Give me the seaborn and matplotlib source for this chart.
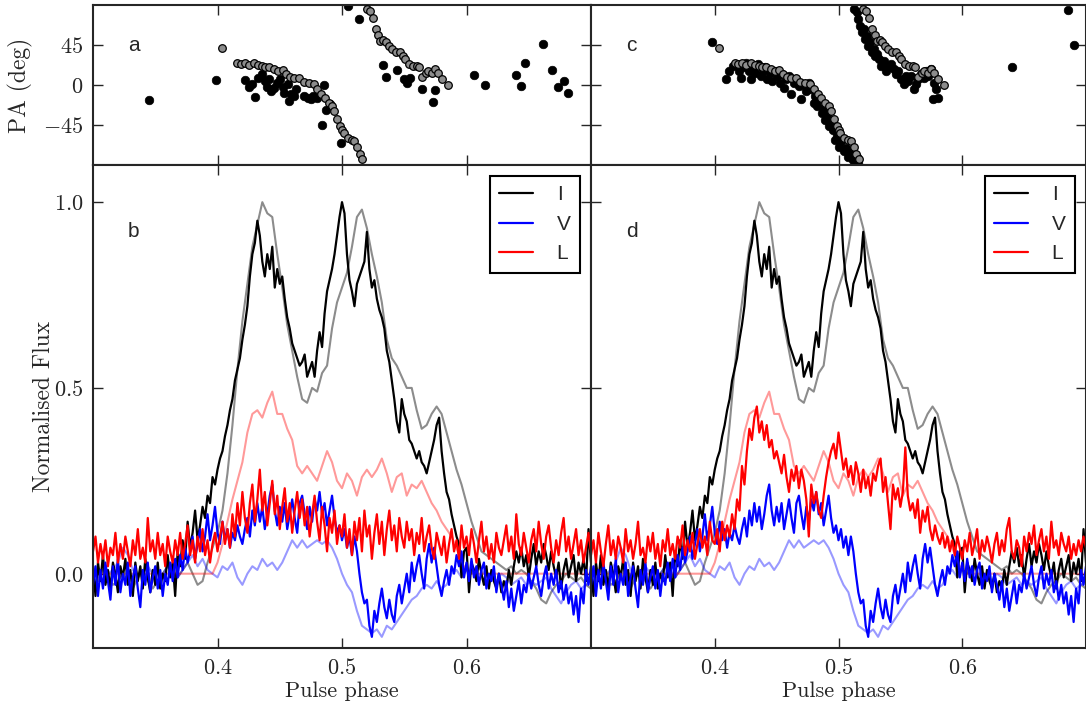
import numpy as np
import matplotlib
matplotlib.use("Agg")
import matplotlib.pyplot as plt
import seaborn as sns

# pulse phase bins (fine profile and reference profile)
phase_fine = np.linspace(0.3, 0.7, 201)
phase_ref = np.linspace(0.3, 0.7, 101)

stokes_i = [
    0.02, -0.06, 0.03, -0.02, 0.05, -0.03, 0.01, -0.04, 0.03, 0.00,
    -0.05, 0.02, -0.01, 0.04, -0.03, 0.01, -0.06, 0.03, -0.02, 0.02,
    -0.04, 0.04, -0.01, -0.05, 0.01, -0.03, 0.03, -0.04, 0.00, -0.02,
    0.05, -0.01, 0.03, -0.06, 0.06, 0.02, 0.09, 0.04, 0.14, 0.07,
    0.11, 0.17, 0.09, 0.13, 0.18, 0.15, 0.21, 0.19, 0.26, 0.24,
    0.28, 0.31, 0.33, 0.37, 0.40, 0.44, 0.47, 0.52, 0.55, 0.58,
    0.63, 0.67, 0.72, 0.80, 0.86, 0.89, 0.95, 0.91, 0.84, 0.80,
    0.86, 0.82, 0.88, 0.77, 0.82, 0.78, 0.80, 0.74, 0.69, 0.66,
    0.62, 0.60, 0.58, 0.56, 0.57, 0.59, 0.53, 0.55, 0.57, 0.53,
    0.60, 0.65, 0.61, 0.70, 0.76, 0.79, 0.82, 0.86, 0.91, 0.96,
    1.00, 0.97, 0.86, 0.79, 0.76, 0.72, 0.78, 0.80, 0.82, 0.84,
    0.92, 0.82, 0.77, 0.79, 0.74, 0.71, 0.69, 0.66, 0.60, 0.57,
    0.52, 0.47, 0.41, 0.38, 0.47, 0.43, 0.41, 0.36, 0.35, 0.33,
    0.31, 0.33, 0.30, 0.29, 0.27, 0.30, 0.33, 0.36, 0.40, 0.42,
    0.33, 0.27, 0.22, 0.20, 0.16, 0.13, 0.10, 0.08, -0.01, 0.06,
    0.07, -0.05, 0.03, 0.01, -0.02, 0.04, 0.00, -0.03, 0.02, -0.04,
    0.01, -0.02, -0.04, 0.00, -0.05, -0.02, -0.04, 0.01, -0.03, 0.02,
    0.06, 0.03, 0.07, 0.02, 0.05, -0.01, 0.04, 0.08, 0.02, 0.06,
    0.03, 0.08, 0.05, 0.01, 0.06, 0.02, -0.01, 0.03, -0.04, 0.01,
    0.04, -0.01, 0.02, 0.05, -0.02, 0.03, 0.00, 0.04, -0.02, 0.12,
    0.03,
]

stokes_v = [
    -0.03, 0.02, -0.06, 0.01, -0.04, 0.03, -0.02, -0.07, 0.02, -0.03,
    0.04, -0.05, 0.00, -0.03, 0.03, -0.06, -0.01, 0.02, -0.04, -0.09,
    0.01, -0.03, 0.03, -0.05, -0.01, 0.02, -0.04, 0.01, -0.06, 0.00,
    -0.03, 0.03, -0.02, 0.04, -0.01, 0.05, 0.01, 0.07, 0.03, 0.06,
    0.10, 0.04, 0.08, 0.12, 0.06, 0.10, 0.16, 0.09, 0.13, 0.18,
    0.11, 0.08, 0.14, 0.09, 0.12, 0.07, 0.11, 0.09, 0.13, 0.10,
    0.08, 0.12, 0.15, 0.10, 0.17, 0.13, 0.19, 0.14, 0.18, 0.12,
    0.16, 0.21, 0.24, 0.17, 0.13, 0.18, 0.14, 0.19, 0.12, 0.16,
    0.20, 0.15, 0.11, 0.19, 0.21, 0.16, 0.12, 0.18, 0.14, 0.20,
    0.17, 0.22, 0.16, 0.19, 0.13, 0.17, 0.21, 0.15, 0.11, 0.13,
    0.09, 0.12, 0.07, 0.10, 0.05, 0.10, 0.06, 0.00, -0.05, -0.08,
    -0.07, -0.14, -0.17, -0.10, -0.13, -0.08, -0.04, -0.09, -0.12, -0.07,
    -0.11, -0.13, -0.06, -0.03, -0.08, -0.04, 0.00, -0.05, 0.03, -0.02,
    0.02, 0.05, 0.00, -0.04, 0.04, 0.08, 0.03, 0.07, 0.02, -0.03,
    -0.06, -0.02, 0.01, -0.03, 0.02, 0.00, 0.05, 0.02, 0.06, -0.01,
    0.03, -0.02, 0.04, -0.01, 0.02, -0.03, 0.01, 0.03, -0.04, 0.00,
    -0.02, 0.02, -0.05, 0.00, -0.03, -0.07, -0.02, -0.09, -0.04, -0.10,
    -0.06, -0.02, -0.08, -0.03, -0.05, 0.00, -0.04, -0.01, 0.02, -0.03,
    -0.06, -0.01, 0.02, -0.04, 0.00, -0.03, 0.01, -0.05, -0.02, -0.07,
    -0.03, -0.08, -0.05, -0.11, -0.06, -0.13, -0.04, -0.08, 0.01, -0.03,
    0.02,
]

# linear polarisation, panel b
lin_b = [
    0.06, 0.10, 0.03, 0.08, 0.04, 0.09, 0.02, 0.07, 0.05, 0.11,
    0.03, 0.08, 0.04, 0.10, 0.06, 0.02, 0.09, 0.05, 0.12, 0.04,
    0.07, 0.03, 0.15, 0.06, 0.09, 0.04, 0.11, 0.05, 0.08, 0.02,
    0.10, 0.06, 0.03, 0.09, 0.05, 0.11, 0.04, 0.08, 0.13, 0.05,
    0.09, 0.03, 0.10, 0.06, 0.12, 0.05, 0.09, 0.03, 0.08, 0.11,
    0.06, 0.10, 0.14, 0.08, 0.12, 0.07, 0.16, 0.10, 0.19, 0.13,
    0.22, 0.15, 0.11, 0.19, 0.24, 0.14, 0.20, 0.28, 0.17, 0.22,
    0.13, 0.19, 0.25, 0.16, 0.21, 0.12, 0.18, 0.23, 0.14, 0.19,
    0.11, 0.17, 0.22, 0.15, 0.20, 0.13, 0.18, 0.10, 0.16, 0.21,
    0.14, 0.09, 0.18, 0.13, 0.06, 0.15, 0.11, 0.17, 0.08, 0.13,
    0.10, 0.16, 0.07, 0.12, 0.05, 0.14, 0.09, 0.15, 0.06, 0.17,
    0.10, 0.13, 0.04, 0.11, 0.16, 0.08, 0.14, 0.05, 0.12, 0.17,
    0.09, 0.13, 0.06, 0.15, 0.10, 0.07, 0.14, 0.09, 0.12, 0.05,
    0.11, 0.08, 0.15, 0.06, 0.10, 0.13, 0.07, 0.04, 0.11, 0.08,
    0.05, 0.10, 0.03, 0.08, 0.12, 0.06, 0.09, 0.04, 0.13, 0.07,
    0.10, 0.05, 0.12, 0.08, 0.03, 0.09, 0.14, 0.06, 0.10, 0.04,
    0.08, 0.03, 0.11, 0.07, 0.05, 0.09, 0.13, 0.06, 0.10, 0.04,
    0.16, 0.08, 0.05, 0.11, 0.07, 0.03, 0.09, 0.12, 0.06, 0.14,
    0.08, 0.04, 0.10, 0.13, 0.07, 0.03, 0.09, 0.05, 0.11, 0.15,
    0.06, 0.10, 0.04, 0.08, 0.12, 0.05, 0.09, 0.03, 0.07, 0.11,
    0.06,
]

# linear polarisation, panel d
lin_d = [
    0.05, 0.09, 0.03, 0.11, 0.06, 0.02, 0.08, 0.13, 0.05, 0.09,
    0.04, 0.10, 0.07, 0.03, 0.12, 0.06, 0.09, 0.04, 0.08, 0.14,
    0.05, 0.07, 0.03, 0.10, 0.06, 0.11, 0.04, 0.08, 0.02, 0.09,
    0.06, 0.12, 0.05, 0.08, 0.04, 0.10, 0.07, 0.13, 0.05, 0.09,
    0.06, 0.11, 0.04, 0.08, 0.12, 0.07, 0.10, 0.05, 0.14, 0.09,
    0.08, 0.12, 0.06, 0.14, 0.09, 0.13, 0.10, 0.16, 0.12, 0.20,
    0.17, 0.29, 0.24, 0.33, 0.39, 0.36, 0.42, 0.45, 0.38, 0.41,
    0.36, 0.40, 0.34, 0.36, 0.31, 0.33, 0.30, 0.27, 0.32, 0.26,
    0.22, 0.28, 0.25, 0.29, 0.23, 0.28, 0.25, 0.20, 0.10, 0.24,
    0.19, 0.22, 0.17, 0.15, 0.21, 0.26, 0.30, 0.33, 0.35, 0.31,
    0.38, 0.33, 0.28, 0.31, 0.26, 0.29, 0.24, 0.30, 0.27, 0.22,
    0.28, 0.23, 0.26, 0.21, 0.27, 0.25, 0.29, 0.31, 0.22, 0.26,
    0.19, 0.12, 0.24, 0.20, 0.23, 0.18, 0.22, 0.34, 0.21, 0.17,
    0.19, 0.15, 0.20, 0.11, 0.17, 0.14, 0.18, 0.12, 0.09, 0.13,
    0.10, 0.08, 0.11, 0.07, 0.10, 0.06, 0.09, 0.05, 0.10, 0.07,
    0.04, 0.09, 0.06, 0.11, 0.05, 0.08, 0.12, 0.04, 0.09, 0.06,
    0.10, 0.07, 0.03, 0.08, 0.11, 0.05, 0.09, 0.06, 0.12, 0.15,
    0.06, 0.04, 0.09, 0.07, 0.02, 0.10, 0.06, 0.11, 0.08, 0.13,
    0.05, 0.09, 0.12, 0.06, 0.10, 0.04, 0.14, 0.07, 0.09, 0.05,
    0.11, 0.08, 0.06, 0.10, 0.04, 0.08, 0.05, 0.09, 0.06, 0.10,
    0.07,
]

# reference (faded) profiles
ref_i = [
    -0.04, -0.02, 0.01, -0.01, -0.03, -0.02, 0.00, -0.02, -0.04, -0.01,
    0.01, -0.02, -0.04, -0.02, 0.00, 0.02, 0.00, -0.01, 0.01, 0.03,
    0.00, -0.03, -0.02, 0.03, 0.07, 0.11, 0.17, 0.27, 0.40, 0.55,
    0.68, 0.78, 0.88, 0.94, 1.00, 0.97, 0.96, 0.86, 0.77, 0.67,
    0.60, 0.53, 0.47, 0.46, 0.50, 0.49, 0.54, 0.56, 0.66, 0.73,
    0.77, 0.81, 0.88, 0.96, 0.98, 0.93, 0.86, 0.80, 0.73, 0.63,
    0.58, 0.56, 0.53, 0.50, 0.50, 0.44, 0.39, 0.40, 0.43, 0.45,
    0.43, 0.38, 0.33, 0.28, 0.24, 0.19, 0.14, 0.10, 0.06, 0.05,
    0.04, 0.03, 0.02, 0.01, 0.02, 0.00, 0.01, 0.00, -0.02, -0.04,
    -0.07, -0.08, -0.05, -0.03, -0.02, 0.00, -0.01, -0.02, -0.01, -0.03,
    -0.04,
]

ref_v = [
    0.01, -0.01, 0.02, 0.00, 0.01, 0.03, 0.07, 0.05, 0.01, -0.01,
    0.00, 0.02, 0.00, -0.02, 0.00, 0.02, 0.01, -0.01, 0.01, 0.03,
    0.05, 0.02, 0.04, 0.01, 0.00, -0.01, 0.02, 0.01, 0.03, -0.01,
    -0.03, 0.00, 0.02, 0.01, 0.04, 0.02, 0.03, 0.01, 0.03, 0.06,
    0.09, 0.07, 0.09, 0.07, 0.08, 0.09, 0.08, 0.09, 0.07, 0.04,
    0.00, -0.03, -0.05, -0.10, -0.14, -0.15, -0.16, -0.15, -0.17, -0.14,
    -0.15, -0.13, -0.11, -0.09, -0.07, -0.06, -0.04, -0.03, -0.04, -0.02,
    -0.04, -0.03, 0.00, 0.01, -0.01, 0.01, 0.00, 0.02, 0.01, -0.01,
    0.00, -0.02, 0.00, -0.01, -0.03, -0.02, -0.01, -0.03, -0.02, -0.03,
    -0.02, -0.01, -0.04, -0.06, -0.08, -0.05, -0.03, -0.02, -0.04, -0.03,
    -0.02,
]

ref_l = [
    0.00, 0.00, 0.00, 0.00, 0.00, 0.00, 0.00, 0.00, 0.00, 0.00,
    0.00, 0.00, 0.00, 0.00, 0.00, 0.00, 0.00, 0.00, 0.00, 0.00,
    0.00, 0.00, 0.00, 0.00, 0.00, 0.03, 0.08, 0.14, 0.20, 0.25,
    0.30, 0.38, 0.43, 0.44, 0.42, 0.46, 0.49, 0.43, 0.43, 0.39,
    0.36, 0.29, 0.27, 0.29, 0.27, 0.25, 0.29, 0.33, 0.30, 0.25,
    0.23, 0.27, 0.25, 0.21, 0.26, 0.28, 0.26, 0.28, 0.31, 0.27,
    0.22, 0.26, 0.27, 0.21, 0.24, 0.23, 0.25, 0.22, 0.19, 0.17,
    0.14, 0.12, 0.10, 0.07, 0.03, 0.01, 0.00, 0.00, 0.00, 0.00,
    0.00, 0.00, 0.00, 0.00, 0.00, 0.00, 0.00, 0.00, 0.00, 0.00,
    0.00, 0.00, 0.00, 0.00, 0.00, 0.00, 0.00, 0.00, 0.00, 0.00,
    0.00,
]

# position angle: reference swing (grey points, both panels)
pa_ref_phase = [
    0.4037, 0.4160, 0.4191, 0.4222, 0.4255, 0.4292, 0.4323, 0.4354, 0.4385, 0.4415,
    0.4452, 0.4486, 0.4523, 0.4554, 0.4585, 0.4615, 0.4655, 0.4692, 0.4732, 0.4772,
    0.4800, 0.4831, 0.4862, 0.4892, 0.4923, 0.4938, 0.4963, 0.4985, 0.5000, 0.5015,
    0.5046, 0.5077, 0.5098, 0.5123, 0.5142, 0.5163,
    0.5200, 0.5222, 0.5246, 0.5271, 0.5292, 0.5308, 0.5332, 0.5354, 0.5375, 0.5400,
    0.5431, 0.5462, 0.5486, 0.5508, 0.5538, 0.5569, 0.5600, 0.5622, 0.5640, 0.5671,
    0.5692, 0.5723, 0.5748, 0.5769, 0.5800, 0.5855,
]
pa_ref_angle = [
    41.6, 24.2, 23.4, 24.6, 22.7, 24.2, 22.7, 21.5, 20.4, 19.7,
    17.8, 15.9, 16.6, 12.1, 9.1, 8.3, 7.6, 3.8, 2.6, 1.5,
    -4.9, -10.6, -14.4, -20.0, -23.8, -29.5, -38.2, -45.7, -50.3, -54.1,
    -59.7, -61.6, -63.5, -69.2, -77.9, -83.5,
    85.8, 82.8, 75.2, 63.1, 56.3, 49.9, 51.0, 48.0, 44.2, 40.4,
    36.7, 36.7, 32.9, 29.1, 23.4, 21.5, 21.5, 20.8, 9.5, 13.2,
    15.9, 14.0, 17.8, 14.0, 6.4, 0.0,
]

# position angle measured, panel a
pa_a_phase = [
    0.3452, 0.3985, 0.4222, 0.4255, 0.4302, 0.4277, 0.4329, 0.4354, 0.4378, 0.4400,
    0.4415, 0.4431, 0.4452, 0.4477, 0.4502, 0.4523, 0.4538, 0.4563, 0.4575, 0.4594,
    0.4615, 0.4631, 0.4692, 0.4723, 0.4748, 0.4769, 0.4800, 0.4855, 0.4840, 0.4871,
    0.4902, 0.4994, 0.5046, 0.5138, 0.5332, 0.5354, 0.5443, 0.5498, 0.5523, 0.5548,
    0.5646, 0.5729, 0.5748, 0.6062, 0.6145, 0.6400, 0.6440, 0.6471, 0.6615, 0.6686,
    0.6738, 0.6785, 0.6815,
]
pa_a_angle = [
    -17.0, 6.0, 6.0, -1.9, -13.2, 0.8, 8.3, 12.1, 4.5, -1.9,
    6.4, -6.8, -3.0, 2.6, 6.4, -1.9, -8.7, 0.8, -18.1, -10.6,
    -12.5, -4.2, -12.5, -14.4, -16.3, -12.5, -14.4, -0.4, -45.0, -27.6,
    -21.9, -65.4, 88.8, 74.5, 22.7, 8.7, 17.4, 6.4, 2.6, 8.3,
    -4.2, -19.3, -6.0, 11.0, -0.4, 11.0, -1.1, 25.3, 46.1, 17.0,
    -1.9, 4.2, -8.7,
]

# position angle measured, panel c
pa_c_phase = [
    0.3981, 0.4094, 0.4113,
    0.4148, 0.4175, 0.4194, 0.4215, 0.4237, 0.4255, 0.4274, 0.4296, 0.4309, 0.4328,
    0.4349, 0.4371, 0.4390, 0.4403, 0.4425, 0.4444, 0.4462, 0.4484, 0.4505, 0.4524,
    0.4543, 0.4559, 0.4578, 0.4597, 0.4618, 0.4640, 0.4659, 0.4677, 0.4699, 0.4720,
    0.4739, 0.4758, 0.4780, 0.4801, 0.4812, 0.4828, 0.4847, 0.4866, 0.4882, 0.4892,
    0.4909, 0.4927, 0.4941, 0.4954, 0.4973, 0.4989, 0.5008, 0.5022, 0.5043, 0.5062,
    0.5075, 0.5097, 0.5116, 0.5135, 0.5151, 0.5161,
    0.5129, 0.5151, 0.5161, 0.5177, 0.5188, 0.5204, 0.5215, 0.5231, 0.5242, 0.5258,
    0.5269, 0.5285, 0.5296, 0.5312, 0.5331, 0.5344, 0.5366, 0.5384, 0.5403, 0.5425,
    0.5446, 0.5465, 0.5484, 0.5505, 0.5527, 0.5546, 0.5565, 0.5586, 0.5608, 0.5626,
    0.5645, 0.5667, 0.5688, 0.5707, 0.5726, 0.5747, 0.5769, 0.5788, 0.5761, 0.5801,
    0.6401, 0.6855, 0.6903,
]
pa_c_angle = [
    48.0, 7.2, 15.9,
    21.5, 23.4, 15.9, 8.3, 19.7, 25.3, 15.9, 6.4, 21.5, 14.0,
    23.4, 10.2, 15.9, 19.7, 6.4, 14.0, 4.5, 15.9, 10.2, 2.6,
    12.1, -3.0, 6.4, 10.2, -10.6, 2.6, 6.4, -1.1, -16.3, 0.8,
    -6.8, 2.6, -4.9, -20.0, -12.5, -23.8, -16.3, -31.4, -25.7, -38.9,
    -33.3, -46.5, -42.7, -50.3, -61.6, -55.9, -69.2, -63.5, -74.8, -71.1,
    -80.5, -76.7, -84.3, -88.1, -80.5, -88.1,
    85.8, 82.0, 74.5, 66.9, 59.3, 63.1, 51.8, 55.6, 44.2, 48.0,
    36.7, 40.4, 32.9, 34.8, 29.1, 21.5, 27.2, 15.9, 19.7, 23.4,
    17.8, 12.1, 15.9, 6.4, 0.8, 10.2, 4.5, 10.2, -4.9, 0.8,
    6.4, 12.1, 8.3, 15.9, 10.2, 17.8, 2.6, -4.9, -16.3, -14.4,
    19.7, 83.9, 45.0,
]

sns.set_style("ticks")
plt.rcParams["mathtext.fontset"] = "cm"
plt.rcParams["axes.linewidth"] = 1.5
plt.rcParams["font.family"] = ["Liberation Sans", "DejaVu Sans"]

fig = plt.figure(figsize=(10.86, 7.08), dpi=100)
W, H = 1086.0, 708.0
col_x = [93 / W, 591 / W]
col_w = [498 / W, 495 / W]
ax_pa = [fig.add_axes([col_x[k], (H - 165) / H, col_w[k], 160 / H]) for k in range(2)]
ax_fl = [fig.add_axes([col_x[k], (H - 648) / H, col_w[k], 483 / H]) for k in range(2)]

serif = "cmr10"
lw = 1.6
tick_fs = 16

for k, ax in enumerate(ax_pa):
    black_x = pa_a_phase if k == 0 else pa_c_phase
    black_y = pa_a_angle if k == 0 else pa_c_angle
    sns.scatterplot(x=black_x, y=black_y, color="black", edgecolor="black",
                    s=38, linewidth=0.5, ax=ax, zorder=2)
    sns.scatterplot(x=pa_ref_phase, y=pa_ref_angle, color="0.55", edgecolor="black",
                    s=30, linewidth=0.9, ax=ax, zorder=3)
    ax.set_xlim(0.3, 0.7)
    ax.set_ylim(-90, 90)
    ax.set_yticks([-45, 0, 45])
    ax.set_xticks([0.4, 0.5, 0.6])
    ax.set_xticklabels([])
    if k == 0:
        ax.set_yticklabels(["$-45$", "$0$", "$45$"])
        ax.set_ylabel("PA (deg)", fontfamily=serif, fontsize=17)
        ax.yaxis.set_label_coords(-0.12, 0.5)
    else:
        ax.set_yticklabels([])
    ax.text(0.07, 0.714, "a" if k == 0 else "c", transform=ax.transAxes,
            fontsize=15, va="baseline", ha="left")

for k, ax in enumerate(ax_fl):
    lin = lin_b if k == 0 else lin_d
    sns.lineplot(x=phase_ref, y=ref_i, color="0.55", lw=1.5, ax=ax, sort=False, estimator=None)
    sns.lineplot(x=phase_ref, y=ref_v, color="blue", alpha=0.4, lw=1.5, ax=ax, sort=False, estimator=None)
    sns.lineplot(x=phase_ref, y=ref_l, color="red", alpha=0.4, lw=1.5, ax=ax, sort=False, estimator=None)
    sns.lineplot(x=phase_fine, y=stokes_i, color="black", lw=lw, ax=ax, sort=False, estimator=None, label="I")
    sns.lineplot(x=phase_fine, y=stokes_v, color="blue", lw=lw, ax=ax, sort=False, estimator=None, label="V")
    sns.lineplot(x=phase_fine, y=lin, color="red", lw=lw, ax=ax, sort=False, estimator=None, label="L")
    ax.set_xlim(0.3, 0.7)
    ax.set_ylim(-0.2, 1.1)
    ax.set_xticks([0.4, 0.5, 0.6])
    ax.set_xticklabels(["$0.4$", "$0.5$", "$0.6$"])
    ax.set_yticks([0.0, 0.5, 1.0])
    if k == 0:
        ax.set_yticklabels(["$0.0$", "$0.5$", "$1.0$"])
        ax.set_ylabel("Normalised Flux", fontfamily=serif, fontsize=17)
        ax.yaxis.set_label_coords(-0.076, 0.5)
    else:
        ax.set_yticklabels([])
    ax.set_xlabel("Pulse phase", fontfamily=serif, fontsize=16, va="top")
    ax.xaxis.set_label_coords(0.5, -0.07)
    ax.text(0.07, 0.8516, "b" if k == 0 else "d", transform=ax.transAxes,
            fontsize=15, va="baseline", ha="left")
    leg = ax.legend(loc="upper right", fontsize=15, frameon=True, fancybox=False,
                    borderaxespad=0.53, handlelength=1.6, handletextpad=1.15,
                    labelspacing=0.5, borderpad=0.45)
    leg.get_frame().set_edgecolor("black")
    leg.get_frame().set_linewidth(1.5)
    leg.get_frame().set_alpha(1)

for ax in ax_pa + ax_fl:
    ax.tick_params(direction="in", top=True, right=True, length=7, width=1,
                   labelsize=tick_fs, pad=7)
    for sp in ax.spines.values():
        sp.set_visible(True)
        sp.set_linewidth(1.5)

fig.savefig("out.png", dpi=100)
